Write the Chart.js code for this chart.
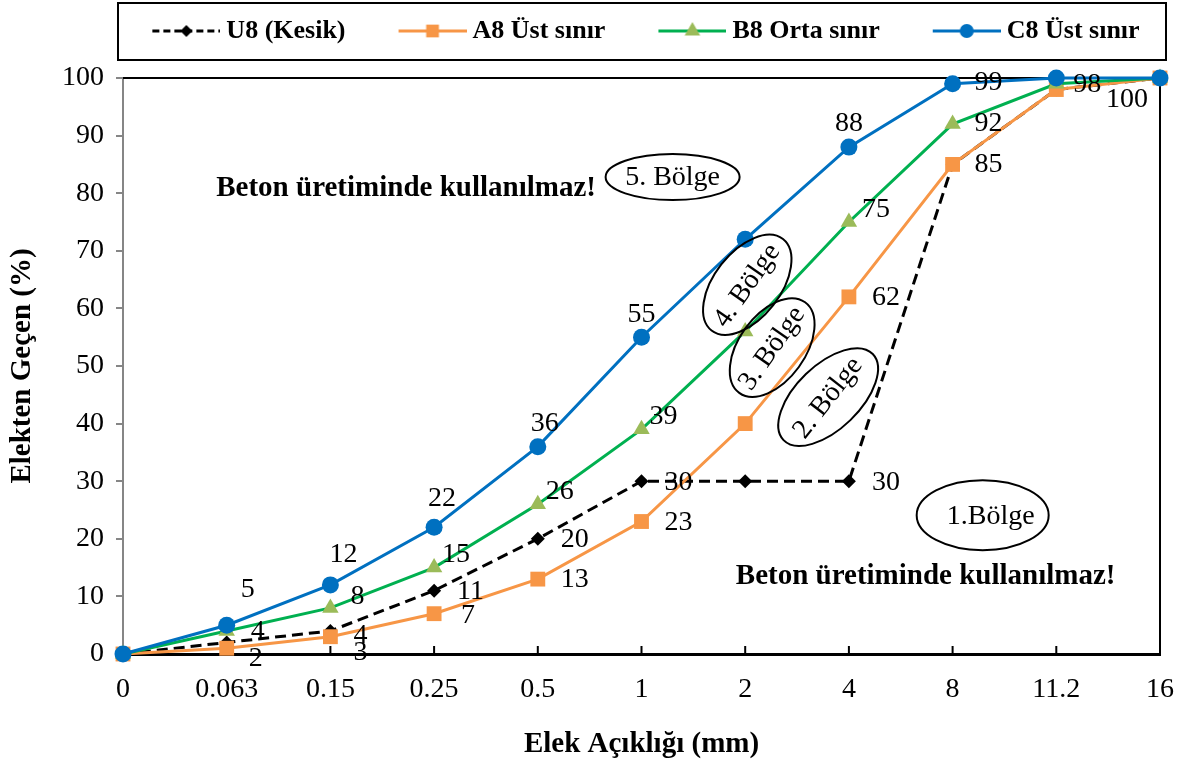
<!DOCTYPE html>
<html>
<head>
<meta charset="utf-8">
<title>Elek analizi - 8 mm</title>
<script src="https://cdn.jsdelivr.net/npm/chart.js@4.4.0/dist/chart.umd.min.js"></script>
<style>
  html, body { margin: 0; padding: 0; background: #fff; }
</style>
</head>
<body>
<canvas id="grading" width="1193" height="769"></canvas>
<script>
// elek açıklıkları (mm)
var sieves = ['0', '0.063', '0.15', '0.25', '0.5', '1', '2', '4', '8', '11.2', '16'];

// elekten geçen (%)
var u8 = [0, 2, 4, 11, 20, 30, 30, 30, 85, 98, 100];
var a8 = [0, 1, 3, 7, 13, 23, 40, 62, 85, 98, 100];
var b8 = [0, 4, 8, 15, 26, 39, 56, 75, 92, 99, 100];
var c8 = [0, 5, 12, 22, 36, 55, 72, 88, 99, 100, 100];

var seriesNames = ['U8 (Kesik)', 'A8 Üst sınır', 'B8 Orta sınır', 'C8 Üst sınır'];

// which points show their value
var u8Shown = [1, 2, 3, 4, 5, 7];
var a8Shown = [2, 3, 4, 5, 7, 8, 9];
var b8Shown = [1, 2, 3, 4, 5, 7, 8];
var c8Shown = [1, 2, 3, 4, 5, 7, 8, 10];

var serif = "'Liberation Serif', 'Times New Roman', serif";

// label placement: [dx, dy, align] relative to the point
var placement = [
  { base: [23, 1, 'left'], nudge: { 1: [22, 16, 'left'], 2: [23, 5, 'left'] } },
  { base: [23, 1, 'left'], nudge: { 2: [23, 16, 'left'], 3: [27, 2, 'left'], 8: [22, 0, 'left'], 9: [17, -5, 'left'] } },
  { base: [8, -13, 'left'], nudge: { 1: [24, 1, 'left'], 2: [20, -11, 'left'], 7: [13, -12, 'left'], 8: [22, 0, 'left'] } },
  { base: [0, -23, 'center'], nudge: { 1: [21, -36, 'center'], 2: [13, -30, 'center'], 3: [8, -29, 'center'], 4: [7, -23, 'center'], 8: [22, -1, 'left'], 10: [-33, 22, 'center'] } }
];
var shownLists = [u8Shown, a8Shown, b8Shown, c8Shown];

// bölge notları (x = category index, y = %)
var zones = [
  { text: '5. Bölge', x: 5.30, y: 82.8, rx: 67, ry: 23, rot: 0, trot: 0 },
  { text: '4. Bölge', x: 6.02, y: 64.1, rx: 58, ry: 33, rot: -52, trot: -55 },
  { text: '3. Bölge', x: 6.26, y: 53.2, rx: 56, ry: 33, rot: -54, trot: -55 },
  { text: '2. Bölge', x: 6.80, y: 44.6, rx: 62, ry: 32, rot: -44, trot: -52 },
  { text: '1.Bölge', x: 8.29, y: 24.1, rx: 66, ry: 35, rot: 0, trot: 0, tdx: 8 }
];
var warnings = [
  { text: 'Beton üretiminde kullanılmaz!', x: 2.73, y: 80.8 },
  { text: 'Beton üretiminde kullanılmaz!', x: 7.74, y: 13.4 }
];

function swatch(line, fill, style, radius, dash) {
  var c = document.createElement('canvas');
  c.width = 114; c.height = 28;
  var g = c.getContext('2d');
  g.strokeStyle = line; g.lineWidth = 3;
  g.setLineDash(dash || []);
  g.beginPath(); g.moveTo(46, 14); g.lineTo(114, 14); g.stroke();
  g.setLineDash([]);
  g.fillStyle = fill;
  Chart.helpers.drawPoint(g, { pointStyle: style, radius: radius, borderWidth: 0 }, 80, 14);
  return c;
}

var swatches = [
  swatch('#000', '#000', 'rectRot', 6, [7, 4]),
  swatch('#F79646', '#F79646', 'rect', 9),
  swatch('#00B050', '#9BBB59', 'triangle', 9),
  swatch('#0070C0', '#0070C0', 'circle', 7)
];

var frame = {
  id: 'frame',
  afterLayout: function (chart) {
    var lg = chart.legend;
    // widen the row space (no wrapping) and lift it into the framed box
    lg.left = 26; lg.right = 1227;
    lg.top -= 24; lg.bottom -= 24;
  },
  beforeDatasetsDraw: function (chart) {
    var ctx = chart.ctx, ca = chart.chartArea, xs = chart.scales.x;
    ctx.save();
    ctx.strokeStyle = '#000';
    ctx.lineWidth = 2;
    ctx.beginPath();
    ctx.moveTo(ca.left, ca.top); ctx.lineTo(ca.right, ca.top);
    ctx.moveTo(ca.right, ca.top); ctx.lineTo(ca.right, ca.bottom);
    for (var i = 1; i < xs.ticks.length; i++) {
      var px = xs.getPixelForTick(i);
      ctx.moveTo(px, ca.bottom); ctx.lineTo(px, ca.bottom - 8);
    }
    ctx.stroke();
    ctx.restore();
  },
  afterDatasetsDraw: function (chart) {
    var ctx = chart.ctx, xs = chart.scales.x, ys = chart.scales.y;
    ctx.save();
    ctx.fillStyle = '#000';
    ctx.textBaseline = 'middle';

    // value labels
    ctx.font = '28px ' + serif;
    chart.data.datasets.forEach(function (ds, i) {
      var meta = chart.getDatasetMeta(i);
      shownLists[i].forEach(function (k) {
        var pt = meta.data[k];
        var p = placement[i].nudge[k] || placement[i].base;
        ctx.textAlign = p[2];
        ctx.fillText(String(ds.data[k]), pt.x + p[0], pt.y + p[1]);
      });
    });

    // zones
    ctx.strokeStyle = '#000';
    ctx.lineWidth = 2;
    ctx.textAlign = 'center';
    zones.forEach(function (z) {
      var cx = xs.getPixelForValue(z.x), cy = ys.getPixelForValue(z.y);
      ctx.beginPath();
      ctx.ellipse(cx, cy, z.rx, z.ry, z.rot * Math.PI / 180, 0, Math.PI * 2);
      ctx.stroke();
      ctx.save();
      ctx.translate(cx + (z.tdx || 0), cy + 1);
      ctx.rotate(z.trot * Math.PI / 180);
      ctx.fillText(z.text, 0, 0);
      ctx.restore();
    });

    ctx.font = 'bold 29px ' + serif;
    warnings.forEach(function (w) {
      ctx.fillText(w.text, xs.getPixelForValue(w.x), ys.getPixelForValue(w.y));
    });
    ctx.restore();
  },
  afterDraw: function (chart) {
    var ctx = chart.ctx, ca = chart.chartArea;
    ctx.save();
    ctx.strokeStyle = '#000';
    ctx.lineWidth = 2;
    ctx.strokeRect(ca.left - 5, 3, ca.right - ca.left + 11, 57);
    ctx.restore();
  }
};

new Chart(document.getElementById('grading'), {
  type: 'line',
  data: {
    labels: sieves,
    datasets: [
      { label: seriesNames[0], data: u8, borderColor: '#000', backgroundColor: '#000', borderWidth: 3,
        borderDash: [11, 6], pointStyle: 'rectRot', pointRadius: 7, pointBorderWidth: 0, order: 4 },
      { label: seriesNames[1], data: a8, borderColor: '#F79646', backgroundColor: '#F79646', borderWidth: 3,
        pointStyle: 'rect', pointRadius: 10.5, pointBorderWidth: 0, order: 3 },
      { label: seriesNames[2], data: b8, borderColor: '#00B050', backgroundColor: '#9BBB59', borderWidth: 3,
        pointStyle: 'triangle', pointRadius: 9.5, pointBorderWidth: 0, order: 2 },
      { label: seriesNames[3], data: c8, borderColor: '#0070C0', backgroundColor: '#0070C0', borderWidth: 3,
        pointStyle: 'circle', pointRadius: 8.5, pointBorderWidth: 0, order: 1 }
    ]
  },
  options: {
    responsive: false,
    animation: false,
    clip: false,
    elements: { line: { tension: 0 } },
    layout: { padding: { top: 28, right: 31, bottom: 0, left: 0 } },
    scales: {
      x: {
        offset: false,
        grid: { display: true, drawOnChartArea: false, drawTicks: false },
        border: { display: true, color: '#000', width: 3 },
        ticks: { color: '#000', font: { family: serif, size: 28 }, padding: 19, maxRotation: 0, autoSkip: false },
        title: { display: true, text: 'Elek Açıklığı (mm)', color: '#000',
                 font: { family: serif, size: 29, weight: 'bold' }, padding: { top: 0, bottom: 7 } },
        afterFit: function (s) { s.height = 115; }
      },
      y: {
        min: 0, max: 100,
        grid: { drawOnChartArea: false, drawTicks: true, tickLength: 7, color: '#868686', lineWidth: 2 },
        border: { display: true, color: '#868686', width: 2 },
        ticks: { stepSize: 10, color: '#000', font: { family: serif, size: 28 }, padding: 12 },
        title: { display: true, text: 'Elekten Geçen (%)', color: '#000',
                 font: { family: serif, size: 29, weight: 'bold' }, padding: { top: 5, bottom: 0 } },
        afterFit: function (s) { s.width = 123; }
      }
    },
    plugins: {
      tooltip: { enabled: false },
      legend: {
        position: 'top',
        labels: {
          usePointStyle: true,
          pointStyleWidth: 100,
          padding: 14,
          color: '#000',
          font: { family: serif, size: 26, weight: 'bold' },
          generateLabels: function (chart) {
            return chart.data.datasets.map(function (ds, i) {
              return { text: ds.label, pointStyle: swatches[i], fillStyle: 'rgba(0,0,0,0)',
                       strokeStyle: 'rgba(0,0,0,0)', lineWidth: 0, hidden: false,
                       datasetIndex: i, fontColor: '#000' };
            });
          }
        }
      }
    }
  },
  plugins: [frame]
});
</script>
</body>
</html>
